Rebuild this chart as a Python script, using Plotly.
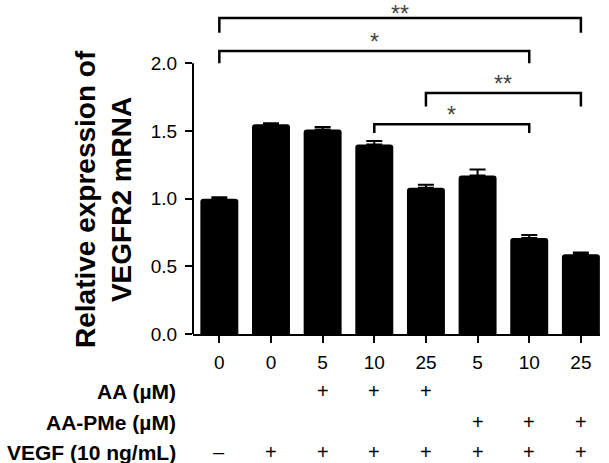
import plotly.graph_objects as go

# ---- data ----
x_pos = [0, 1, 2, 3, 4, 5, 6, 7]
dose_labels = ["0", "0", "5", "10", "25", "5", "10", "25"]
values = [1.00, 1.55, 1.51, 1.40, 1.08, 1.17, 0.71, 0.59]
errors = [0.01, 0.006, 0.02, 0.025, 0.022, 0.045, 0.022, 0.012]
aa_row = ["", "", "+", "+", "+", "", "", ""]
aapme_row = ["", "", "", "", "", "+", "+", "+"]
vegf_row = ["\u2013", "+", "+", "+", "+", "+", "+", "+"]
row_names = ["AA (\u00b5M)", "AA-PMe (\u00b5M)", "VEGF (10 ng/mL)"]
# significance: (from bar, to bar, label, bracket level, drop level, label level)
sig = [
    (0, 7, "**", 2.335, 2.225, 2.365),
    (0, 6, "*", 2.09, 2.00, 2.16),
    (4, 7, "**", 1.78, 1.68, 1.85),
    (3, 6, "*", 1.55, 1.485, 1.62),
]

W, H = 609, 463
L, R, T, B = 193, 9, 1, 129
plot_h = H - T - B
FONT = "Liberation Sans, Arial, sans-serif"

fig = go.Figure()
fig.add_trace(go.Bar(
    x=x_pos, y=values, width=0.735,
    marker=dict(color="black", line=dict(width=0), cornerradius=3),
    error_y=dict(type="data", array=errors, arrayminus=[0] * len(errors),
                 symmetric=False, color="black", thickness=2, width=8),
    hoverinfo="skip",
))

shapes = []
# y axis line only up to 2.0
shapes.append(dict(type="line", xref="paper", yref="y", x0=0, x1=0, y0=0, y1=2.0,
                   line=dict(color="black", width=2)))
annotations = []
for i, j, lab, lvl, drop, tl in sig:
    shapes.append(dict(type="path", xref="x", yref="y",
                       path=f"M {x_pos[i]},{drop} L {x_pos[i]},{lvl} L {x_pos[j]},{lvl} L {x_pos[j]},{drop}",
                       line=dict(color="black", width=2.5)))
    annotations.append(dict(x=(x_pos[i] + x_pos[j]) / 2, y=tl, xref="x", yref="y",
                            text=lab, showarrow=False, xanchor="center", yanchor="middle",
                            font=dict(family=FONT, size=23, color="#444444")))

row_px = [391, 422, 452]
for rname, row, py in zip(row_names, [aa_row, aapme_row, vegf_row], row_px):
    yp = (H - B - py) / plot_h
    annotations.append(dict(x=(178 - L) / (W - L - R), y=yp, xref="paper", yref="paper",
                            text=f"<b>{rname}</b>", showarrow=False, xanchor="right",
                            yanchor="middle", font=dict(family=FONT, size=21, color="black")))
    for xp, s in zip(x_pos, row):
        if s:
            annotations.append(dict(x=xp, y=yp, xref="x", yref="paper", text=s,
                                    showarrow=False, xanchor="center", yanchor="middle",
                                    font=dict(family=FONT, size=20, color="black")))

# y axis title
annotations.append(dict(x=(104 - L) / (W - L - R), y=(H - B - 199) / plot_h,
                        xref="paper", yref="paper", textangle=-90,
                        text="<b>Relative expression of<br>VEGFR2 mRNA</b>",
                        showarrow=False, xanchor="center", yanchor="middle",
                        font=dict(family=FONT, size=28, color="black")))

fig.update_layout(
    width=W, height=H,
    margin=dict(l=L, r=R, t=T, b=B),
    paper_bgcolor="white", plot_bgcolor="white",
    showlegend=False,
    shapes=shapes, annotations=annotations,
    font=dict(family=FONT, color="black"),
    xaxis=dict(range=[-0.51, 7.37], tickmode="array", tickvals=x_pos, ticktext=dose_labels,
               showline=True, linecolor="black", linewidth=2, ticks="outside",
               ticklen=7, tickwidth=2, tickcolor="black", showgrid=False, zeroline=False,
               ticklabelstandoff=3,
               tickfont=dict(family=FONT, size=19, color="black"), fixedrange=True),
    yaxis=dict(range=[0, 2.46], tickmode="array", tickvals=[0, 0.5, 1.0, 1.5, 2.0],
               ticktext=["0.0", "0.5", "1.0", "1.5", "2.0"],
               showline=False, ticks="outside", ticklen=7, tickwidth=2, tickcolor="black",
               showgrid=False, zeroline=False, ticklabelstandoff=4,
               tickfont=dict(family=FONT, size=19, color="black"), fixedrange=True),
)

fig.write_html("out.html", config={"displayModeBar": False},
               post_script="document.body.style.margin='0';document.body.style.padding='0';")
